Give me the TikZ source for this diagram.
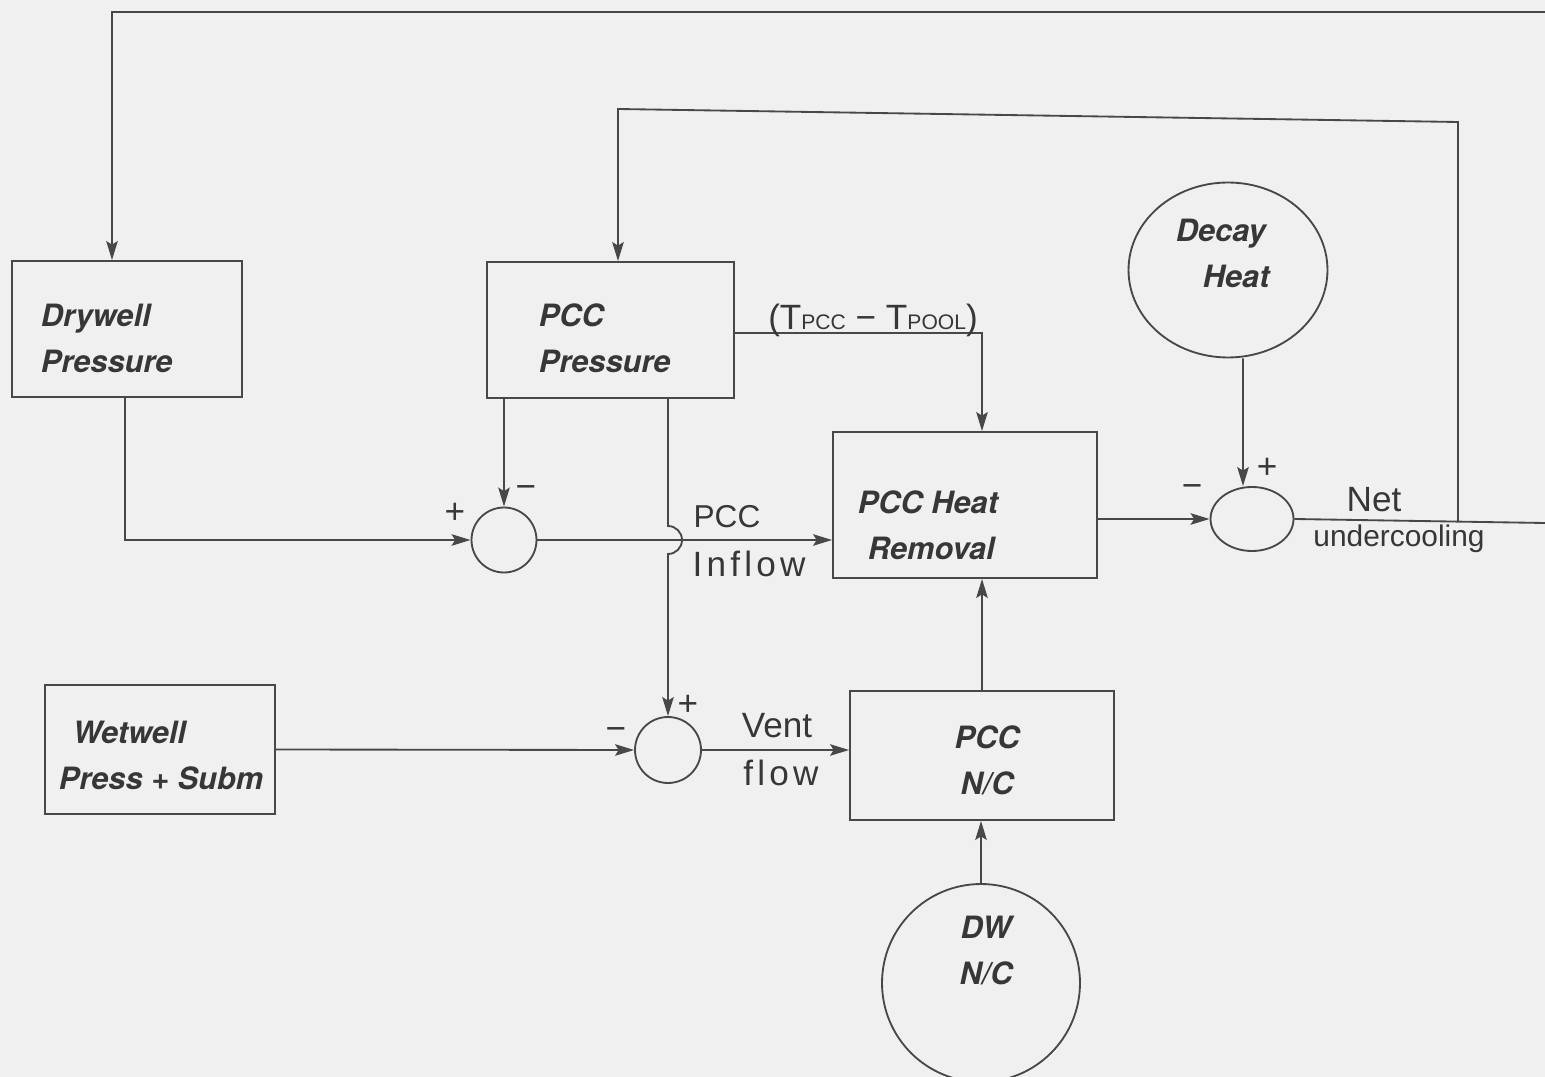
\documentclass[tikz,border=0pt]{standalone}
\usepackage{fontspec}
\setmainfont{Liberation Sans}
\newfontfamily\boxfont{TeX Gyre Heros}
\newfontfamily\widehand[LetterSpace=12]{Liberation Sans}
\usetikzlibrary{arrows.meta,shapes.geometric,calc}
\definecolor{bg}{RGB}{240,240,240}
\definecolor{ink}{RGB}{72,72,72}
\definecolor{txt}{RGB}{55,55,55}
\begin{document}
\begin{tikzpicture}[x=0.02cm,y=-0.02cm,
  line width=1.05pt, color=ink,
  box/.style={draw=ink,line width=1.05pt,inner sep=0pt},
  rnd/.style={draw=ink,line width=1.05pt,inner sep=0pt},
  bt/.style={font=\boxfont\bfseries\itshape\fontsize{17.5}{26}\selectfont, text=txt, inner sep=0pt},
  hw/.style={font=\fontsize{20}{24}\selectfont, text=txt, inner sep=0pt},
  arr/.style={draw=ink, -{Stealth[length=0.38cm,width=0.23cm,inset=0.07cm]}},
]
\useasboundingbox (0,0) rectangle (1545,1077);
\fill[bg] (0,0) rectangle (1545,1077);
\clip (0,0) rectangle (1545,1077);

% blocks
\node[box,minimum width=4.6cm,minimum height=2.72cm] (dp) at (127,329) {};
\node[bt,anchor=north west,align=left] (dpt) at (40,303) {Drywell\\Pressure};
\node[box,minimum width=4.94cm,minimum height=2.72cm] (pp) at (610.5,330) {};
\node[bt,anchor=north west,align=left] (ppt) at (538,303) {PCC\\Pressure};
\node[box,minimum width=5.28cm,minimum height=2.92cm] (hr) at (965,505) {};
\node[bt,anchor=north west,align=left] (hrt) at (857,490) {PCC Heat\\\hspace*{0.2cm}Removal};
\node[box,minimum width=4.6cm,minimum height=2.58cm] (ww) at (160,749.5) {};
\node[bt,anchor=north west,align=left] (wwt) at (58,720) {\hspace*{0.28cm}Wetwell\\Press + Subm};
\node[box,minimum width=5.28cm,minimum height=2.58cm] (nc) at (982,755.5) {};
\node[bt,anchor=north,align=center] (nct) at (987,725) {PCC\\N/C};
\node[rnd,ellipse,minimum width=3.98cm,minimum height=3.5cm] (dh) at (1228,270) {};
\node[bt,anchor=north west,align=left] (dht) at (1175,218) {Decay\\\hspace*{0.54cm}Heat};
\node[rnd,circle,minimum size=3.96cm] (dw) at (981,983) {};
\node[bt,anchor=north,align=center] (dwt) at (986,915) {DW\\N/C};

% summing junctions
\node[rnd,circle,minimum size=1.3cm] (s1) at (504,540) {};
\node[rnd,circle,minimum size=1.32cm] (s2) at (668,750) {};
\node[rnd,ellipse,minimum width=1.66cm,minimum height=1.28cm] (s3) at (1252,519) {};

% free ends / bends
\coordinate (rt) at (1545,12);
\coordinate (re) at (1545,523);
\coordinate (c1) at (1458,122);
\coordinate (c2) at (618,109);

% connectors
\draw (s3.east) -- (re);
\coordinate (j1) at ($(s3.east)!0.653!(re)$);
\draw[arr] (rt) -| ([xshift=-0.3cm]dp.north);
\draw[arr] (j1) -- (c1) -- (c2) -- (c2 |- pp.north);
\draw[arr] ([xshift=-0.04cm]dp.south) |- (s1.west);
\draw[arr] (pp.south -| s1.north) -- (s1.north);
\draw[arr] (pp.south -| s2.north) -- ([yshift=0.28cm]s2.north |- s1.east)
  arc[start angle=90,end angle=-90,radius=0.28cm] -- (s2.north);
\draw[arr] ([yshift=-0.06cm]pp.east) -| (hr.north -| nc.north);
\draw[arr] (s1.east) -- (hr.west |- s1.east);
\draw[arr] (ww.east) -- (s2.west);
\draw[arr] (s2.east) -- (nc.west |- s2.east);
\draw[arr] (nc.north) -- (nc.north |- hr.south);
\draw[arr] (dw.north) -- (dw.north |- nc.south);
\draw[arr] (hr.east |- s3.west) -- (s3.west);
\draw[arr] ([xshift=0.3cm]dh.south) -- ([xshift=-0.18cm]s3.north);

% handwritten labels
\node[hw,anchor=base] (tdiff) at (873,330) {(T{\fontsize{12}{12}\selectfont PCC} − T{\fontsize{12}{12}\selectfont POOL})};
\node[hw,anchor=base,font=\fontsize{18}{22}\selectfont] (pcclab) at (727,528) {PCC};
\node[hw,anchor=base,font=\widehand\fontsize{20}{24}\selectfont] (inflow) at (749,577) {Inflow};
\node[hw,anchor=base] (vent) at (777,737) {Vent};
\node[hw,anchor=base,font=\widehand\fontsize{20}{24}\selectfont] (flowlab) at (781,785) {flow};
\node[hw,anchor=base] (net) at (1374,512) {Net};
\node[hw,anchor=base,font=\fontsize{17}{20}\selectfont] (under) at (1399,547) {undercooling};

% signs
\node[hw] (p1) at (455,513) {+};
\node[hw] (m1) at (526,492) {−};
\node[hw] (m2) at (616,734) {−};
\node[hw] (p2) at (688,705) {+};
\node[hw] (m3) at (1192,491) {−};
\node[hw] (p3) at (1267,468) {+};
\end{tikzpicture}
\end{document}
